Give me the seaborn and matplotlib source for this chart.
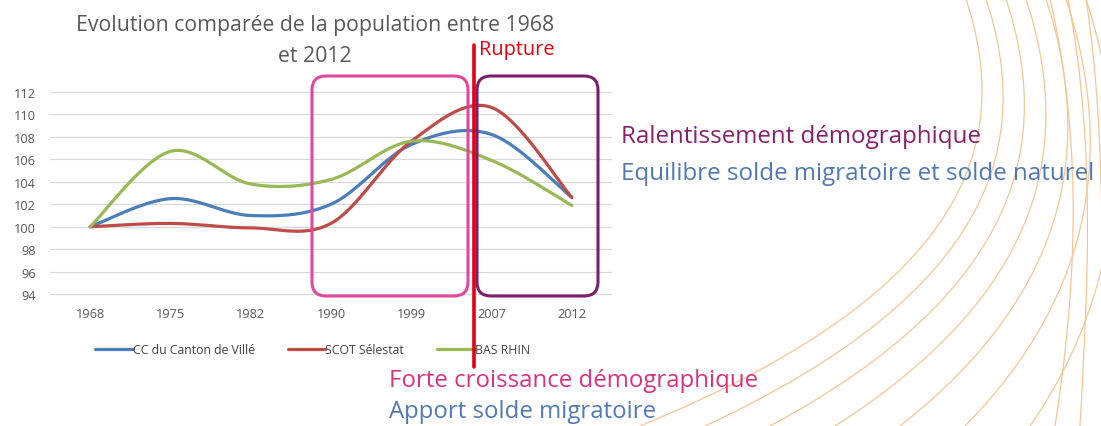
import numpy as np
import pandas as pd
import matplotlib
matplotlib.use("Agg")
import matplotlib.pyplot as plt
import seaborn as sns
from matplotlib.patches import FancyBboxPatch, PathPatch
from matplotlib.path import Path
from matplotlib.lines import Line2D
from matplotlib.transforms import IdentityTransform

# data (index base 100 in 1968)
years = ["1968", "1975", "1982", "1990", "1999", "2007", "2012"]
canton_ville = [100.0, 102.5, 101.0, 102.0, 107.3, 108.2, 102.6]
scot_selestat = [100.0, 100.3, 99.9, 100.3, 107.6, 110.6, 102.6]
bas_rhin = [100.0, 106.7, 103.8, 104.2, 107.6, 105.9, 101.9]

series_names = ["CC du Canton de Villé", "SCOT Sélestat", "BAS RHIN"]
series_colors = ["#4A7EBB", "#BE4B48", "#98B954"]

W, H = 1101, 427


def smooth_curve(xs, ys, n=40):
    """Excel-like smoothed line: cubic Bezier through each point."""
    pts = np.column_stack([xs, ys]).astype(float)
    P = np.vstack([pts[0], pts, pts[-1]])
    out = []
    for i in range(len(pts) - 1):
        p0, p1, p2, p3 = P[i], P[i + 1], P[i + 2], P[i + 3]
        c1 = p1 + (p2 - p0) / 6
        c2 = p2 - (p3 - p1) / 6
        t = np.linspace(0, 1, n)[:, None]
        seg = (1 - t) ** 3 * p1 + 3 * (1 - t) ** 2 * t * c1 + 3 * (1 - t) * t ** 2 * c2 + t ** 3 * p2
        out.append(seg if i == 0 else seg[1:])
    return np.vstack(out)


rows = []
for name, vals in zip(series_names, [canton_ville, scot_selestat, bas_rhin]):
    curve = smooth_curve(np.arange(len(years)), vals)
    for k, (x, y) in enumerate(curve):
        rows.append({"pos": x, "value": y, "series": name, "order": k})
df = pd.DataFrame(rows)

sns.set_style("white")
plt.rcParams["font.family"] = ["Open Sans", "DejaVu Sans"]

fig = plt.figure(figsize=(W / 100, H / 100), dpi=100)
ax = fig.add_axes([50 / W, 1 - 297 / H, 562 / W, 206 / H])

# decorative background curves (slide template)
px = IdentityTransform()
deco_color = "#F3C793"
for k in range(7):
    verts = [(966 + 20 * k, H), (1012 + 20 * k, H - 140), (975 + 25 * k, H - 290), (640 + 65 * k, 0)]
    path = Path(verts, [Path.MOVETO, Path.CURVE4, Path.CURVE4, Path.CURVE4])
    fig.patches.append(PathPatch(path, fill=False, ec=deco_color, lw=0.9, transform=px, zorder=0))
for k in range(3):
    verts = [(1050 + 18 * k, H), (1085 + 12 * k, H - 150), (1075 + 12 * k, H - 300), (1055 + 25 * k, 0)]
    path = Path(verts, [Path.MOVETO, Path.CURVE4, Path.CURVE4, Path.CURVE4])
    fig.patches.append(PathPatch(path, fill=False, ec=deco_color, lw=0.9, transform=px, zorder=0))

sns.lineplot(data=df, x="pos", y="value", hue="series", hue_order=series_names,
             palette=series_colors, sort=False, estimator=None, units="series",
             linewidth=2.3, ax=ax, legend=False)

ax.set_xlim(-0.5, len(years) - 0.5)
ax.set_ylim(93.85, 112.15)
ax.set_xticks(range(len(years)))
ax.set_xticklabels(years)
ax.set_yticks(np.arange(94, 113, 2))
ax.set_xlabel("")
ax.set_ylabel("")
ax.grid(axis="y", color="#D9D9D9", lw=0.9)
ax.set_axisbelow(True)
for s in ax.spines.values():
    s.set_visible(False)
ax.tick_params(axis="both", length=0, labelsize=9.2, labelcolor="#595959")
ax.tick_params(axis="x", pad=8)
ax.tick_params(axis="y", pad=10)
ax.set_facecolor("none")

handles = [Line2D([], [], color=c, lw=2.3) for c in series_colors]
ax.legend(handles, series_names, loc="center", bbox_to_anchor=(0.467, -0.26), ncol=3,
          frameon=False, fontsize=8.8, handlelength=3.1, handletextpad=0.0,
          columnspacing=2.7, labelcolor="#404040")

fig.text(315 / W, 1 - 25 / H, "Evolution comparée de la population entre 1968",
         ha="center", va="center", fontsize=15.3, color="#595959")
fig.text(315 / W, 1 - 57 / H, "et 2012", ha="center", va="center",
         fontsize=15.3, color="#595959")

# highlight boxes
fig.patches.append(FancyBboxPatch((312, H - 297), 156, 220,
                                  boxstyle="round,pad=0,rounding_size=14",
                                  fill=False, ec="#E0489C", lw=2.2, transform=px))
fig.patches.append(FancyBboxPatch((477, H - 297), 121, 220,
                                  boxstyle="round,pad=0,rounding_size=14",
                                  fill=False, ec="#7A1F6B", lw=2.2, transform=px))

# rupture line
fig.add_artist(Line2D([474, 474], [H - 46, H - 368], color="#E3000F", lw=2.6, transform=px))
fig.text(479 / W, 1 - 50 / H, "Rupture", ha="left", va="center", fontsize=14.3, color="#E3000F")

fig.text(621 / W, 1 - 137 / H, "Ralentissement démographique", ha="left", va="center",
         fontsize=17.4, color="#8A1F6E")
fig.text(621 / W, 1 - 174 / H, "Equilibre solde migratoire et solde naturel", ha="left",
         va="center", fontsize=17.4, color="#5079B6")
fig.text(389 / W, 1 - 381 / H, "Forte croissance démographique", ha="left", va="center",
         fontsize=17.3, color="#D9337E")
fig.text(389 / W, 1 - 412 / H, "Apport solde migratoire", ha="left", va="center",
         fontsize=17.3, color="#5079B6")

fig.savefig("out.png", dpi=100, facecolor="white")
